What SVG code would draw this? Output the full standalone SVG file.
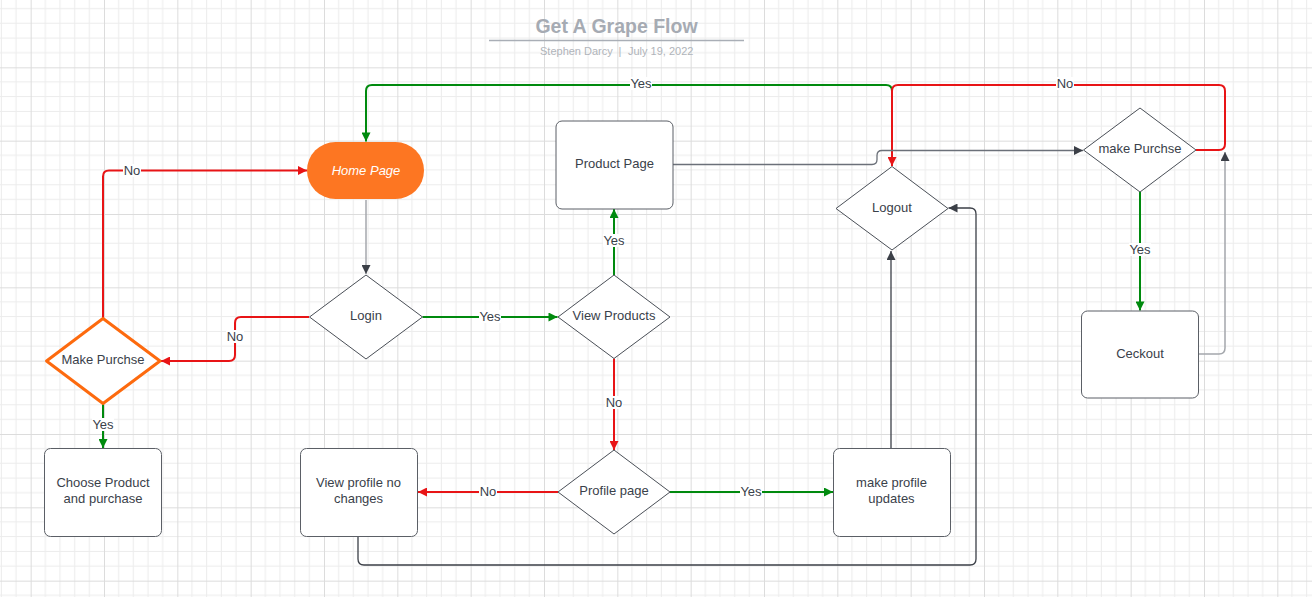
<svg xmlns="http://www.w3.org/2000/svg" width="1312" height="597" viewBox="0 0 1312 597">
<style>
.t{font-family:"Liberation Sans",Arial,sans-serif;font-size:13px;fill:#3a414a;text-anchor:middle}
.lb{font-family:"Liberation Sans",Arial,sans-serif;font-size:13px;fill:#3a414a;text-anchor:middle}
.sub{font-family:"Liberation Sans",Arial,sans-serif;font-size:11px;fill:#b0b4ba}
.box{fill:#fff;stroke:#5b5f66;stroke-width:1}
.dia{fill:#fff;stroke:#4a4f57;stroke-width:1;stroke-linejoin:round}
.c{fill:none;stroke-width:2}
.red{stroke:#e81416}
.grn{stroke:#008a0e}
.dk{stroke:#3b3f47;stroke-width:1.3}
.gy{stroke:#a4a7ac;stroke-width:1.5}
.lbg{fill:#fff}
</style>
<defs>
<pattern id="grid" patternUnits="userSpaceOnUse" x="30.667" y="67.333" width="73.333" height="73.333">
<path d="M14.667,0V73.333M29.333,0V73.333M44,0V73.333M58.667,0V73.333M0,14.667H73.333M0,29.333H73.333M0,44H73.333M0,58.667H73.333" stroke="#ececec" stroke-width="1" fill="none"/>
<path d="M0.5,0V73.333M0,0.5H73.333" stroke="#dcdcdc" stroke-width="1" fill="none"/>
</pattern>
<marker id="mr" viewBox="0 0 10 10" refX="10" refY="5" markerWidth="11" markerHeight="9" markerUnits="userSpaceOnUse" orient="auto"><path d="M0,0L10,5L0,10z" fill="#e81416"/></marker>
<marker id="mg" viewBox="0 0 10 10" refX="10" refY="5" markerWidth="11" markerHeight="9" markerUnits="userSpaceOnUse" orient="auto"><path d="M0,0L10,5L0,10z" fill="#008a0e"/></marker>
<marker id="md" viewBox="0 0 10 10" refX="10" refY="5" markerWidth="11" markerHeight="9" markerUnits="userSpaceOnUse" orient="auto"><path d="M0,0L10,5L0,10z" fill="#3b3f47"/></marker>
</defs>
<rect width="1312" height="597" fill="#fff"/>
<rect width="1312" height="597" fill="url(#grid)"/>

<g id="title">
<text x="616.5" y="33" style="font-family:'Liberation Sans',Arial,sans-serif;font-size:19.5px;font-weight:bold;fill:#a6abb3" text-anchor="middle">Get A Grape Flow</text>
<line x1="489" y1="40.5" x2="744" y2="40.5" stroke="#a9aeb6" stroke-width="1.5"/>
<text class="sub" x="540" y="55">Stephen Darcy</text>
<text class="sub" x="620" y="55" text-anchor="middle">|</text>
<text class="sub" x="628" y="55">July 19, 2022</text>
</g>

<g id="connectors">
<path class="c gy" d="M366,200V274" marker-end="url(#md)"/>
<path class="c red" d="M309,317H241Q235,317 235,323V355Q235,361 229,361H161" marker-end="url(#mr)"/>
<path class="c red" d="M103,318V176.5Q103,170.5 109,170.5H307" marker-end="url(#mr)"/>
<path class="c grn" d="M103,404V448" marker-end="url(#mg)"/>
<path class="c grn" d="M422.5,317H557.5" marker-end="url(#mg)"/>
<path class="c grn" d="M614,275V209" marker-end="url(#mg)"/>
<path class="c red" d="M614,358.5V450" marker-end="url(#mr)"/>
<path class="c red" d="M558,492H418" marker-end="url(#mr)"/>
<path class="c grn" d="M670,492H833" marker-end="url(#mg)"/>
<path class="c dk" d="M358,536V559Q358,565 364,565H970Q976,565 976,559V214Q976,208 970,208H948.5" marker-end="url(#md)"/>
<path class="c dk" d="M891,448V251" marker-end="url(#md)"/>
<path class="c grn" d="M892,166V91Q892,85 886,85H372Q366,85 366,91V141.5" marker-end="url(#mg)"/>
<path class="c red" d="M1196,150H1219Q1225,150 1225,144V91Q1225,85 1219,85H898Q892,85 892,91V166" marker-end="url(#mr)"/>
<path class="c" style="stroke:#6b7079;stroke-width:1.3" d="M673,164.5H872Q877,164.5 877,159.5V155.5Q877,150.5 882,150.5H1083" marker-end="url(#md)"/>
<path class="c grn" d="M1140,192V310.5" marker-end="url(#mg)"/>
<path class="c gy" d="M1198.5,354H1219Q1225,354 1225,348V152" marker-end="url(#md)"/>

<rect class="lbg" x="123" y="164" width="18" height="13"/><text class="lb" x="132" y="175">No</text>
<rect class="lbg" x="226" y="330" width="18" height="13"/><text class="lb" x="235" y="341">No</text>
<rect class="lbg" x="92" y="418" width="22" height="13"/><text class="lb" x="103" y="429">Yes</text>
<rect class="lbg" x="479" y="310" width="22" height="13"/><text class="lb" x="490" y="320.5">Yes</text>
<rect class="lbg" x="603" y="234" width="22" height="13"/><text class="lb" x="614" y="245">Yes</text>
<rect class="lbg" x="605" y="396" width="18" height="13"/><text class="lb" x="614" y="407">No</text>
<rect class="lbg" x="479" y="485" width="18" height="13"/><text class="lb" x="488" y="496">No</text>
<rect class="lbg" x="740" y="485" width="22" height="13"/><text class="lb" x="751" y="496">Yes</text>
<rect class="lbg" x="630" y="77" width="22" height="13"/><text class="lb" x="641" y="88">Yes</text>
<rect class="lbg" x="1056" y="77" width="18" height="13"/><text class="lb" x="1065" y="88">No</text>
<rect class="lbg" x="1129" y="243" width="22" height="13"/><text class="lb" x="1140" y="254">Yes</text>
</g>

<g id="home-page">
<rect x="307" y="142" width="117" height="57" rx="28.5" fill="#fd7622"/>
<text class="t" x="366" y="174.5" style="fill:#fff;font-style:italic">Home Page</text>
</g>
<g id="login">
<polygon class="dia" points="366,275 422.5,317 366,359 309.5,317"/>
<text class="t" x="366" y="319.5">Login</text>
</g>
<g id="make-purchse-left">
<polygon points="103,318.5 160,361 103,403.5 46.5,361" fill="#fff" stroke="#fd6a0e" stroke-width="3" stroke-linejoin="round"/>
<text class="t" x="103" y="364">Make Purchse</text>
</g>
<g id="choose-product">
<rect class="box" x="44.5" y="448.5" width="117" height="88" rx="6"/>
<text class="t" x="103" y="486.5">Choose Product</text>
<text class="t" x="103" y="502.5">and purchase</text>
</g>
<g id="view-products">
<polygon class="dia" points="614,275 670,317 614,358.5 558,317"/>
<text class="t" x="614" y="319.5">View Products</text>
</g>
<g id="product-page">
<rect class="box" x="556" y="121" width="117" height="88" rx="6"/>
<text class="t" x="614.5" y="167.5">Product Page</text>
</g>
<g id="profile-page">
<polygon class="dia" points="614,450 670,492 614,534 558,492"/>
<text class="t" x="614" y="495">Profile page</text>
</g>
<g id="view-profile">
<rect class="box" x="300.5" y="448.5" width="117" height="88" rx="6"/>
<text class="t" x="358.5" y="486.5">View profile no</text>
<text class="t" x="358.5" y="502.5">changes</text>
</g>
<g id="make-profile-updates">
<rect class="box" x="833.5" y="448.5" width="117" height="88" rx="6"/>
<text class="t" x="891.5" y="486.5">make profile</text>
<text class="t" x="891.5" y="502.5">updates</text>
</g>
<g id="logout">
<polygon class="dia" points="892,166.5 948,208.5 892,250 836,208.5"/>
<text class="t" x="892" y="211.5">Logout</text>
</g>
<g id="make-purchse-right">
<polygon class="dia" points="1140,108 1196,150 1140,192 1083.5,150"/>
<text class="t" x="1140" y="152.5">make Purchse</text>
</g>
<g id="ceckout">
<rect class="box" x="1081.5" y="311" width="117" height="87" rx="6"/>
<text class="t" x="1140" y="357.5">Ceckout</text>
</g>
</svg>
